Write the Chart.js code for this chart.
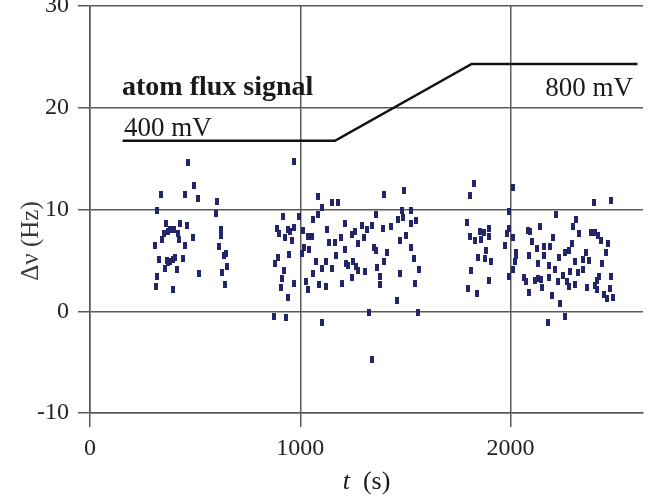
<!DOCTYPE html>
<html><head><meta charset="utf-8">
<script src="https://cdn.jsdelivr.net/npm/chart.js@4/dist/chart.umd.min.js"></script>
<style>html,body{margin:0;padding:0;background:#fff}</style>
</head><body>
<canvas id="c" width="648" height="497"></canvas>
<script>
// ---- data ----
const xTicks = [0, 1000, 2000];
const yTicks = [-10, 0, 10, 20, 30];
const fluxT = [155, 1165, 1815, 2604];
const fluxV = [16.75, 16.75, 24.3, 24.3];
const fluxLabels = ["atom flux signal", "400 mV", "800 mV"];
const scanT = [
 467,338,494,451,514,604,318,599,361,428,461,379,401,350,420,369,344,423,490,621,623,307,451,613,645,637,330,365,380,393,406,442,372,358,415,651,519,626,321,314,393,641,
 970,1082,1151,1179,1101,1082,1061,920,994,1215,888,901,943,951,972,929,959,1011,1035,1057,1129,1137,1164,1192,1211,1019,1042,1009,948,893,882,1168,1074,1124,1101,1151,1061,1218,925,912,970,1027,1090,1121,1039,1197,909,943,876,932,1104,
 1399,1494,1360,1483,1528,1467,1489,1552,1525,1294,1341,1392,1432,1258,1245,1316,1305,1274,1502,1475,1352,1360,1412,1528,1541,1396,1253,1226,1266,1274,1310,1365,1564,1472,1247,1379,1379,1544,1462,1325,1560,1340,
 1825,1807,2011,1995,1791,1807,1829,1854,1861,1874,1898,1898,1983,1991,1975,2011,1882,1846,1880,1909,2025,2026,2019,2011,1811,1896,1991,1799,1841,2085,2094,2102,2126,2090,2130,2066,2074,2115,2130,2090,
 2395,2478,2217,2142,2311,2299,2324,2203,2157,2189,2382,2401,2414,2429,2465,2453,2291,2277,2261,2232,2159,2344,2358,2371,2437,2307,2182,2212,2251,2285,2322,2343,2420,2476,2413,2143,2151,2185,2226,2269,2277,2308,2362,2402,2413,2445,2461,2472,2487,2198,2236,2261,2178
];
const scanV = [
 14.6,11.5,12.4,11.5,11.1,10.8,9.9,9.6,8.6,8.6,8.4,8.0,8.0,7.6,7.6,7.8,7.1,7.1,7.2,8.0,7.4,6.5,6.5,6.4,5.7,5.5,5.1,5.0,4.9,5.1,5.3,5.2,4.8,4.2,4.1,4.4,3.7,3.8,3.4,2.4,2.1,2.6,
 14.7,11.3,10.7,10.7,10.2,9.5,9.0,9.3,9.3,8.6,8.1,7.6,8.0,7.8,8.2,7.2,7.0,7.9,7.3,7.3,8.0,6.8,6.8,7.2,6.1,6.3,6.1,5.7,5.6,5.3,4.7,5.5,4.9,4.9,4.2,4.2,3.7,4.7,4.0,3.2,2.7,2.9,2.6,2.4,2.1,2.7,2.3,1.4,-0.5,-0.6,-1.1,
 11.5,11.9,9.5,9.9,9.9,9.0,9.2,8.9,8.6,8.4,8.4,8.1,8.3,7.8,7.5,8.0,7.2,6.7,7.4,7.0,6.3,6.0,5.8,6.3,5.2,4.9,4.9,4.5,4.4,4.0,3.9,4.3,4.1,3.7,3.3,3.4,2.6,2.7,1.1,-0.1,-0.1,-4.7,
 12.6,11.4,12.2,9.8,8.7,7.3,7.0,7.8,7.1,7.7,8.1,7.3,7.6,8.1,6.5,7.2,6.0,5.3,5.2,4.9,5.8,5.5,4.9,4.1,4.0,3.0,3.4,2.2,1.7,7.9,7.8,6.9,6.2,5.5,4.7,3.3,2.9,3.0,3.2,1.8,
 10.7,10.9,9.5,8.3,9.0,8.3,7.6,7.2,6.4,6.4,7.7,7.7,7.4,7.0,6.7,5.8,6.7,6.0,5.8,5.3,5.5,5.1,5.8,5.0,4.7,4.9,4.5,4.1,3.5,3.9,3.8,4.1,3.4,3.4,3.0,3.1,2.3,3.3,2.9,2.9,2.4,2.6,2.3,2.5,2.1,1.6,1.3,2.2,1.4,1.5,0.8,-0.5,-1.1
];

// ---- marker ----
const mk = document.createElement('canvas');
mk.width = 4; mk.height = 7;
const mctx = mk.getContext('2d');
mctx.fillStyle = '#23256a';
mctx.fillRect(0, 0, 4, 7);

const SERIF = '"Liberation Serif", "Times New Roman", serif';
const GRID = '#5a5a5a';

const textPlugin = {
  id: 'texts',
  afterDraw(chart) {
    const ctx = chart.ctx;
    const xs = chart.scales.x;
    ctx.save();
    ctx.fillStyle = '#1a1a1a';
    ctx.textBaseline = 'alphabetic';
    // annotations
    ctx.font = 'bold 28px ' + SERIF;
    ctx.textAlign = 'left';
    ctx.fillText(fluxLabels[0], 122, 95);
    ctx.font = '27px ' + SERIF;
    ctx.fillText(fluxLabels[1], 124, 136);
    ctx.textAlign = 'right';
    ctx.fillText(fluxLabels[2], 633, 96);
    // x title: italic t + (s)
    const cx = (xs.left + xs.right) / 2;
    ctx.font = 'italic 26px ' + SERIF;
    const w1 = ctx.measureText('t').width;
    ctx.font = '26px ' + SERIF;
    const rest = '  (s)';
    const w2 = ctx.measureText(rest).width;
    const x0 = cx - (w1 + w2) / 2;
    ctx.textAlign = 'left';
    ctx.font = 'italic 26px ' + SERIF;
    ctx.fillText('t', x0, 489);
    ctx.font = '26px ' + SERIF;
    ctx.fillText(rest, x0 + w1, 489);
    // y title
    ctx.translate(31, 241);
    ctx.rotate(-Math.PI / 2);
    ctx.textAlign = 'center';
    ctx.textBaseline = 'middle';
    ctx.font = '25px ' + SERIF;
    ctx.fillStyle = '#3a3a3a';
    ctx.fillText('\u0394\u03BD (Hz)', 0, 0);
    ctx.restore();
  }
};

new Chart(document.getElementById('c'), {
  type: 'scatter',
  data: {
    datasets: [
      {
        label: 'flux',
        type: 'line',
        data: fluxT.map((t, i) => ({x: t, y: fluxV[i]})),
        borderColor: '#111',
        borderWidth: 2.5,
        pointRadius: 0,
        fill: false,
        tension: 0,
        order: 1
      },
      {
        label: 'scan',
        data: scanT.map((t, i) => ({x: t, y: scanV[i]})),
        pointStyle: mk,
        pointRadius: 3,
        backgroundColor: '#23256a',
        borderColor: '#23256a',
        order: 2
      }
    ]
  },
  options: {
    responsive: false,
    animation: false,
    devicePixelRatio: 1,
    layout: { padding: { top: 6, left: 0, right: 0, bottom: 0 } },
    plugins: { legend: { display: false }, tooltip: { enabled: false } },
    scales: {
      x: {
        type: 'linear',
        min: 0, max: 2630,
        afterBuildTicks: s => { s.ticks = xTicks.map(v => ({value: v})); },
        afterFit: s => { s.height = 84; s.paddingLeft = 0; s.paddingRight = 0; },
        grid: { color: GRID, lineWidth: 1.5, tickLength: 14, drawTicks: true },
        border: { color: GRID, width: 1.5 },
        ticks: { color: '#222', font: { family: SERIF, size: 24 }, padding: 7, maxRotation: 0,
                 callback: v => String(v) }
      },
      y: {
        type: 'linear',
        min: -10, max: 30,
        afterBuildTicks: s => { s.ticks = yTicks.map(v => ({value: v})); },
        afterFit: s => { s.width = 90; s.paddingTop = 0; s.paddingBottom = 0; },
        grid: { color: GRID, lineWidth: 1.5, tickLength: 12 },
        border: { color: GRID, width: 1.5 },
        ticks: { color: '#222', font: { family: SERIF, size: 24 }, padding: 9,
                 callback: v => String(v) }
      }
    }
  },
  plugins: [textPlugin]
});
</script>
</body></html>
